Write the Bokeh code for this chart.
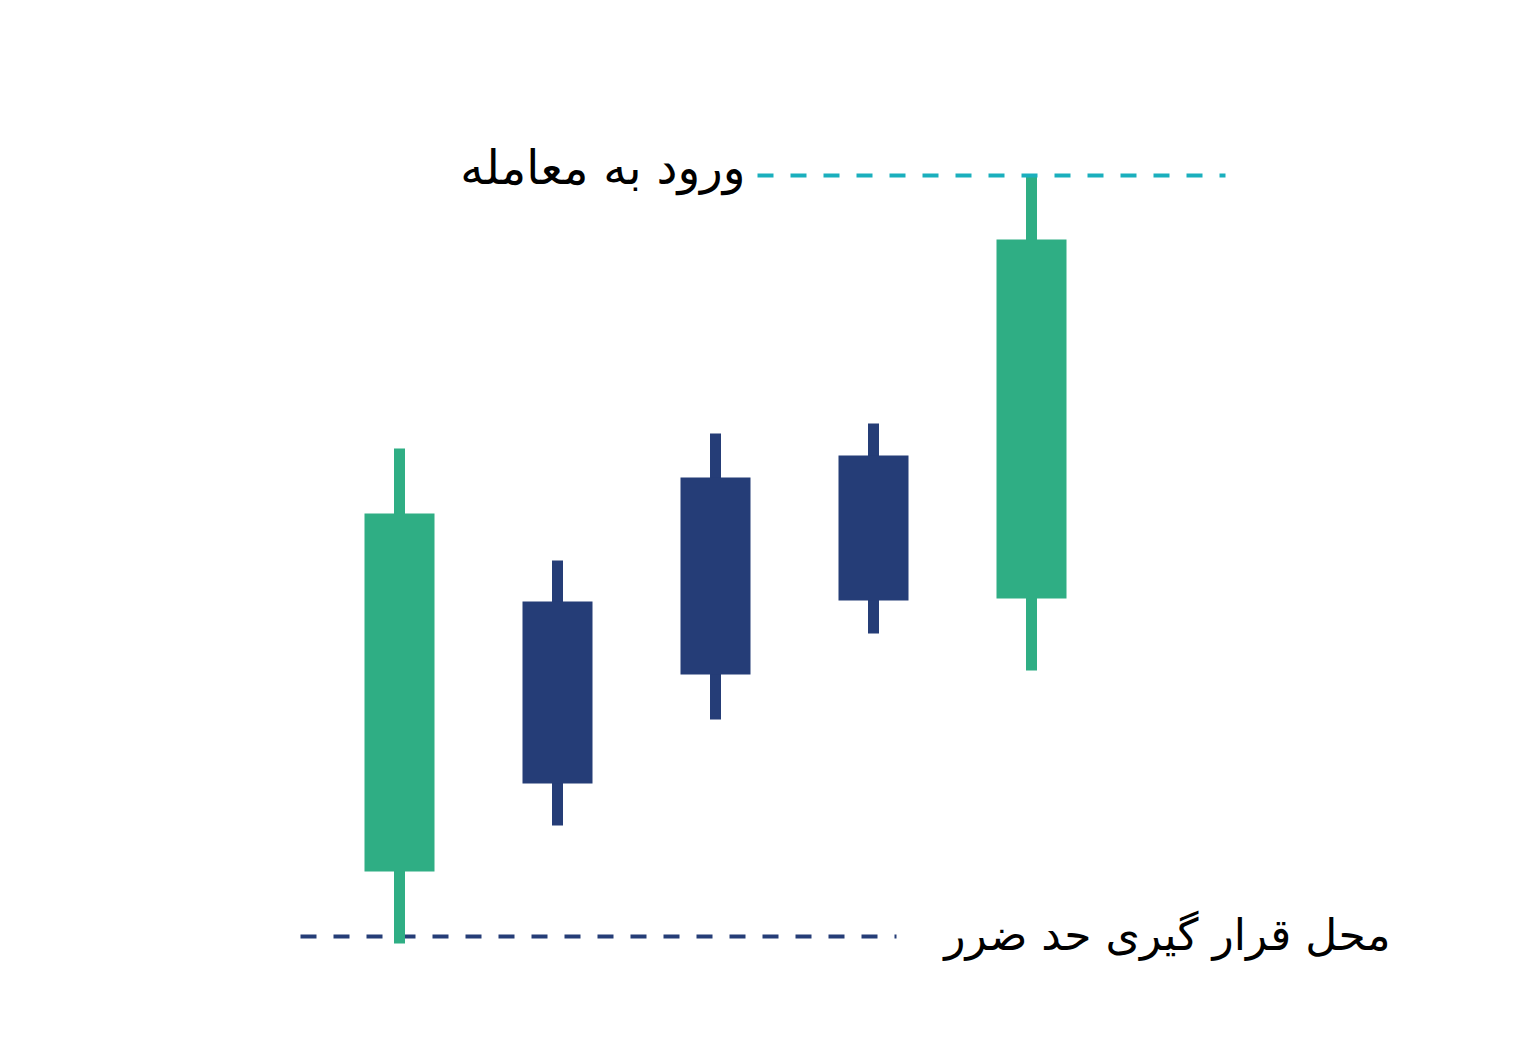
from bokeh.plotting import figure
from bokeh.models import Range1d
from bokeh.embed import file_html
from bokeh.resources import INLINE
from bokeh.core.properties import value

# Candle data (arbitrary price units)
idx = [1, 2, 3, 4, 5]
open_ = [16.7, 43.7, 56.1, 58.3, 44.0]
close = [52.5, 25.5, 36.4, 43.8, 79.9]
high = [59.0, 47.8, 60.5, 61.5, 86.3]
low = [9.5, 21.3, 31.9, 40.5, 36.8]

entry_level = 86.3
stop_level = 10.2
entry_label = "ورود به معامله"
stop_label = "محل قرار گیری حد ضرر"

GREEN = "#2FAE84"
NAVY = "#253D77"
CYAN = "#1AAFBD"

colors = [GREEN if c > o else NAVY for o, c in zip(open_, close)]
tops = [max(o, c) for o, c in zip(open_, close)]
bots = [min(o, c) for o, c in zip(open_, close)]

W, H = 1498, 1030
ppu_x = 158.0
x0 = 1 - 399 / ppu_x
x1 = x0 + W / ppu_x

p = figure(width=W, height=H, output_backend="svg", toolbar_location=None,
           x_range=Range1d(x0, x1), y_range=Range1d(0.8, 103.8),
           min_border=0)
p.axis.visible = False
p.grid.visible = False
p.outline_line_color = None
p.background_fill_color = "white"
p.border_fill_color = "white"

# stop line (under the wick)
p.line(x=[1 + (300 - 399) / ppu_x, 1 + (896 - 399) / ppu_x], y=[stop_level, stop_level],
       line_color=NAVY, line_width=4, line_dash="16 17")

# wicks
p.vbar(x=idx, top=high, bottom=low, width=11 / ppu_x, fill_color=colors, line_color=None)
# bodies
p.vbar(x=idx, top=tops, bottom=bots, width=70 / ppu_x, fill_color=colors, line_color=None)

# entry line (over the wick)
p.line(x=[1 + (757 - 399) / ppu_x, 1 + (1225 - 399) / ppu_x], y=[entry_level, entry_level],
       line_color=CYAN, line_width=4, line_dash="16 17")

# labels
p.text(x=[1 + (745 - 399) / ppu_x], y=[entry_level + 0.8], text=[entry_label],
       text_align="right", text_baseline="middle", text_font=value("DejaVu Sans"),
       text_font_size="47px", text_color="black")
p.text(x=[1 + (1390 - 399) / ppu_x], y=[stop_level + 0.2], text=[stop_label],
       text_align="right", text_baseline="middle", text_font=value("DejaVu Sans"),
       text_font_size="44px", text_color="black")

open("out.html", "w").write(file_html(p, INLINE))
